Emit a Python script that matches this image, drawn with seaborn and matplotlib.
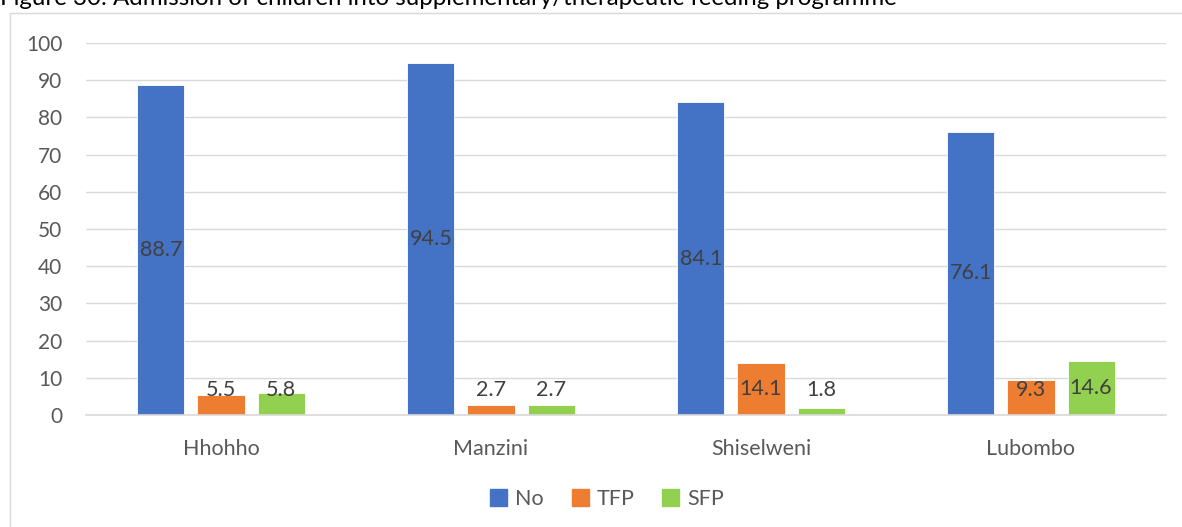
import matplotlib
matplotlib.use("Agg")
import matplotlib.pyplot as plt
import matplotlib.patches as mpatches
import seaborn as sns
import pandas as pd

# Data
regions = ["Hhohho", "Manzini", "Shiselweni", "Lubombo"]
groups = ["No", "TFP", "SFP"]
no_vals = [88.7, 94.5, 84.1, 76.1]
tfp_vals = [5.5, 2.7, 14.1, 9.3]
sfp_vals = [5.8, 2.7, 1.8, 14.6]
colors = ["#4472C4", "#ED7D31", "#92D050"]
title = "Figure 30: Admission of children into supplementary/therapeutic feeding programme"

rows = []
for g, vals in zip(groups, [no_vals, tfp_vals, sfp_vals]):
    for r, v in zip(regions, vals):
        rows.append({"region": r, "group": g, "value": v})
df = pd.DataFrame(rows)

sns.set_theme(style="white")
plt.rcParams["font.family"] = ["Lato", "DejaVu Sans"]

W, H = 1182, 527
fig = plt.figure(figsize=(W / 100, H / 100), dpi=100)
fig.patch.set_facecolor("white")

# Chart frame
frame = mpatches.Rectangle((10 / W, -0.1), 1.2, 1 - 13 / H + 0.1, transform=fig.transFigure,
                           fill=False, edgecolor="#D9D9D9", linewidth=1.0, clip_on=False)
fig.add_artist(frame)

# Caption above the frame
fig.text(0 / W, 1 - 5 / H, title, fontsize=17.3, color="#000000", ha="left", va="baseline")

ax = fig.add_axes([86 / W, 1 - 415 / H, (1166 - 86) / W, (415 - 43) / H])
sns.barplot(data=df, x="region", y="value", hue="group", order=regions, hue_order=groups,
            palette=colors, width=0.667, gap=0.217, ax=ax, legend=True,
            edgecolor="white", linewidth=0.6, saturation=1)

ax.set_ylim(0, 100)
ax.set_xlim(-0.5, len(regions) - 0.5)
ax.set_yticks(range(0, 101, 10))
ax.yaxis.grid(True, color="#D9D9D9", linewidth=1.0)
ax.set_axisbelow(True)
for s in ["top", "right", "left"]:
    ax.spines[s].set_visible(False)
ax.spines["bottom"].set_color("#D9D9D9")
ax.spines["bottom"].set_linewidth(1.2)
ax.set_xlabel("")
ax.set_ylabel("")
ax.tick_params(axis="y", length=0, pad=17, labelsize=15, labelcolor="#595959")
ax.tick_params(axis="x", length=0, pad=17, labelsize=15.5, labelcolor="#595959")

# Value labels centred in each bar, kept clear of the baseline
for cont in ax.containers:
    for bar in cont:
        h = bar.get_height()
        x = bar.get_x() + bar.get_width() / 2
        ax.text(x, max(h / 2, 6.7), f"{h:.1f}", ha="center", va="center",
                fontsize=15.5, color="#404040")

ax.legend_.remove()
handles = [mpatches.Patch(color=c, label=g) for c, g in zip(colors, groups)]
fig.legend(handles=handles, loc="center", bbox_to_anchor=(607 / W, 1 - 499 / H), ncol=3,
           frameon=False, fontsize=15.5, handlelength=0.8, handleheight=0.8,
           handletextpad=0.35, columnspacing=1.3, labelcolor="#595959")

fig.savefig("out.png", dpi=100, facecolor="white")
